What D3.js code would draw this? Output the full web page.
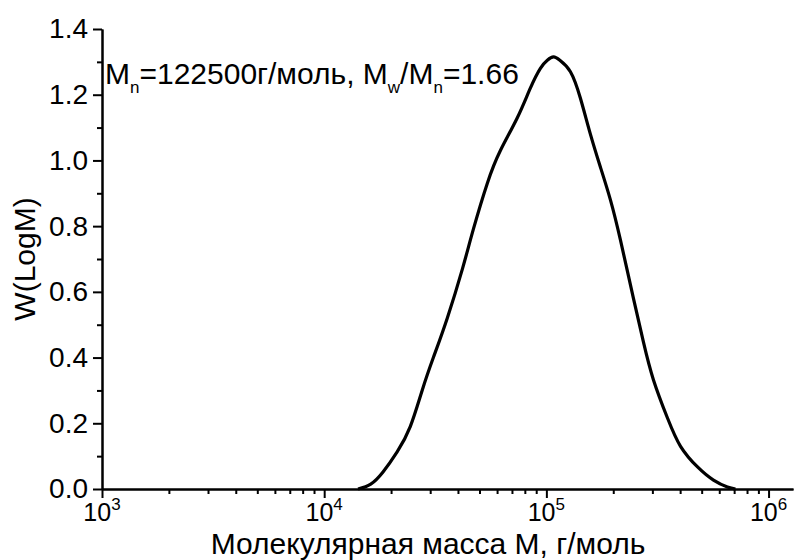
<!DOCTYPE html>
<html>
<head>
<meta charset="utf-8">
<script src="https://cdn.jsdelivr.net/npm/d3@7"></script>
<style>
  body { margin: 0; background: #fff; }
  svg { font-family: "Liberation Sans", Arial, sans-serif; }
  .axis path, .axis line { stroke: #000; stroke-width: 2; }
</style>
</head>
<body>
<svg width="796" height="560"></svg>
<script>
// Molar mass values (г/моль) and the distribution W(LogM)
const molMass = [14200, 16200, 18400, 21300, 24400, 27600, 31000, 35800, 41900, 46900,
  54200, 62100, 74000, 84700, 94000, 101000, 107700, 115000, 128300, 142200,
  157800, 175000, 194200, 215400, 246400, 273500, 303400, 350800, 401600, 479000,
  565000, 653000, 710000]
const wLogM = [0, 0.015, 0.052, 0.113, 0.19, 0.30, 0.40, 0.52, 0.67, 0.79,
  0.93, 1.03, 1.13, 1.22, 1.28, 1.305, 1.315, 1.305, 1.27, 1.19,
  1.08, 0.98, 0.88, 0.758, 0.581, 0.447, 0.332, 0.216, 0.13, 0.067,
  0.027, 0.006, 0]

const yTicks = [0, 0.2, 0.4, 0.6, 0.8, 1.0, 1.2, 1.4]
const yMinor = [0.1, 0.3, 0.5, 0.7, 0.9, 1.1, 1.3]
const xDecades = [1e3, 1e4, 1e5, 1e6]
const xExponents = ['3', '4', '5', '6']

const xLabel = 'Молекулярная масса M, г/моль'
const yLabel = 'W(LogM)'

const svg = d3.select('svg')
const margin = { top: 29, left: 102, bottom: 71, right: 3 }
const W = 796, H = 560

const x = d3.scaleLog()
  .domain([1e3, Math.pow(10, 6.11)])
  .range([margin.left, W - margin.right])
const y = d3.scaleLinear()
  .domain([0, 1.4])
  .range([H - margin.bottom, margin.top])

// minor x ticks 2..9 in each decade
const xMinor = []
xDecades.forEach(d => { for (let k = 2; k <= 9; k++) if (d * k <= x.domain()[1]) xMinor.push(d * k) })

// y axis
svg.append('g').attr('class', 'axis')
  .attr('transform', `translate(${margin.left},0)`)
  .call(d3.axisLeft(y).tickValues(yMinor).tickSize(5).tickFormat('').tickSizeOuter(0))
svg.append('g').attr('class', 'axis')
  .attr('transform', `translate(${margin.left},0)`)
  .call(d3.axisLeft(y).tickValues(yTicks).tickSize(9).tickSizeOuter(0).tickPadding(5)
    .tickFormat(d3.format('.1f')))
  .call(g => g.selectAll('text').attr('font-size', 28).attr('fill', '#000')
    .attr('font-family', '"Liberation Sans", Arial, sans-serif'))

// x axis
svg.append('g').attr('class', 'axis')
  .attr('transform', `translate(0,${y(0)})`)
  .call(d3.axisBottom(x).tickValues(xMinor).tickSize(5).tickFormat('').tickSizeOuter(0))
svg.append('g').attr('class', 'axis')
  .attr('transform', `translate(0,${y(0)})`)
  .call(d3.axisBottom(x).tickValues(xDecades).tickSize(9).tickSizeOuter(0).tickFormat(''))

// x tick labels 10^n
const xl = svg.append('g')
xDecades.forEach((d, i) => {
  const t = xl.append('text')
    .attr('x', x(d))
    .attr('y', y(0) + 32)
    .attr('text-anchor', 'middle')
    .attr('font-size', 25)
  t.append('tspan').text('10')
  t.append('tspan').attr('dy', -11).attr('font-size', 17).text(xExponents[i])
})

// axis titles
svg.append('text')
  .attr('x', 428)
  .attr('y', 554)
  .attr('text-anchor', 'middle')
  .attr('font-size', 30)
  .text(xLabel)
svg.append('text')
  .attr('transform', `translate(35,${(y(0) + y(1.4)) / 2}) rotate(-90)`)
  .attr('text-anchor', 'middle')
  .attr('font-size', 30)
  .text(yLabel)

// curve
const line = d3.line()
  .x((d, i) => x(molMass[i]))
  .y(d => y(d))
  .curve(d3.curveNatural)
svg.append('path')
  .datum(wLogM)
  .attr('d', line)
  .attr('fill', 'none')
  .attr('stroke', '#000')
  .attr('stroke-width', 3.2)

// annotation
const ann = svg.append('text')
  .attr('x', 105).attr('y', 84)
  .attr('font-size', 30)
ann.append('tspan').text('M')
ann.append('tspan').attr('dy', 9).attr('font-size', 17).text('n')
ann.append('tspan').attr('dy', -9).text('=122500г/моль, M')
ann.append('tspan').attr('dy', 9).attr('font-size', 17).text('w')
ann.append('tspan').attr('dy', -9).text('/M')
ann.append('tspan').attr('dy', 9).attr('font-size', 17).text('n')
ann.append('tspan').attr('dy', -9).text('=1.66')
</script>
</body>
</html>
